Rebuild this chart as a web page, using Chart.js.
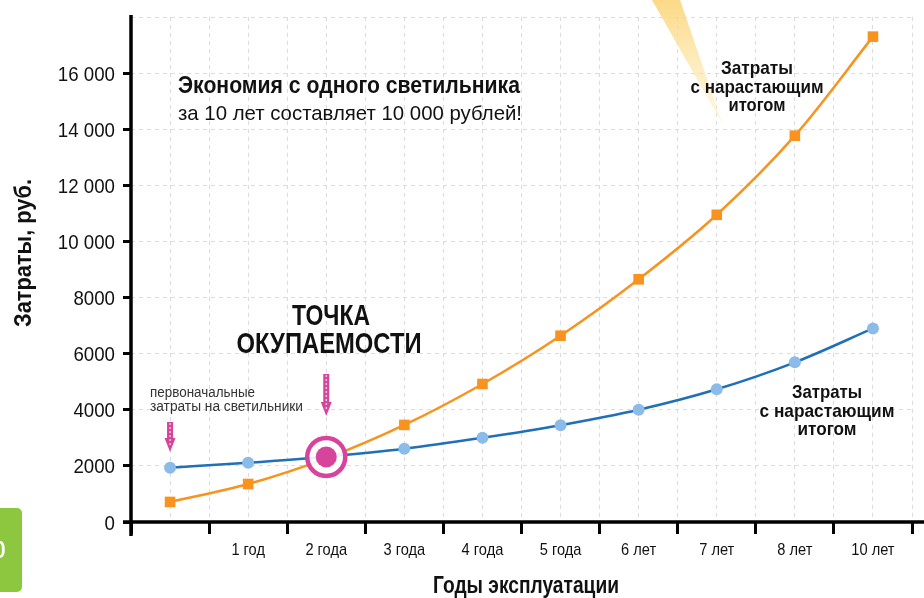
<!DOCTYPE html>
<html lang="ru">
<head>
<meta charset="utf-8">
<title>Точка окупаемости</title>
<script src="https://cdn.jsdelivr.net/npm/chart.js@4.4.1/dist/chart.umd.min.js"></script>
<style>
  html, body { margin: 0; padding: 0; background: #fff; }
  #wrap { width: 924px; height: 598px; position: relative; }
</style>
</head>
<body>
<div id="wrap"><canvas id="paybackChart" width="924" height="598"></canvas></div>
<script>
// Data
const yearLabels = ['', '1 год', '2 года', '3 года', '4 года', '5 года', '6 лет', '7 лет', '8 лет', '10 лет'];
const blueCosts = [1935, 2115, 2330, 2610, 3000, 3450, 4000, 4730, 5690, 6900];
const orangeCosts = [715, 1355, 2270, 3460, 4920, 6640, 8650, 10950, 13770, 17300];
const paybackPoint = [{ x: 2, y: 2320 }];
const yTicks = { min: 0, max: 18000, step: 2000 };

const FONT = "'Liberation Sans', Arial, sans-serif";
const PINK = '#d6449c';
const BLUE = '#1f6fb9';
const BLUE_POINT = '#8bbbe8';
const ORANGE = '#f7931e';
const GRID = '#dcdcdc';
const INK = '#111';

// horizontal squeeze to imitate the condensed face of the original
const X_TICK_SQUEEZE = 0.86;
const Y_TICK_SQUEEZE = 0.89;

Chart.defaults.font.family = FONT;

function toXY(values) {
    return values.map((v, i) => ({ x: i, y: v }));
}

function isWhole(v) {
    return Math.abs(v - Math.round(v)) < 1e-6;
}

function formatRub(v) {
    if (v >= 10000) {
        return String(v).replace(/\B(?=(\d{3})+(?!\d))/g, ' ');
    }
    return String(v);
}

// draws text squeezed to a given width (or by a factor when width is null)
function fitText(ctx, text, x, y, font, width, align, factor) {
    ctx.font = font;
    const w = ctx.measureText(text).width;
    const sx = width ? width / w : factor;
    ctx.save();
    ctx.translate(x, y);
    ctx.scale(sx, 1);
    ctx.textAlign = align;
    ctx.textBaseline = 'alphabetic';
    ctx.fillText(text, 0, 0);
    ctx.restore();
}

function drawArrow(ctx, x, y0, y1) {
    ctx.save();
    ctx.fillStyle = PINK;
    ctx.fillRect(x - 3, y0, 6, y1 - y0 - 12);
    ctx.beginPath();
    ctx.moveTo(x - 5.5, y1 - 14);
    ctx.lineTo(x + 5.5, y1 - 14);
    ctx.lineTo(x, y1);
    ctx.closePath();
    ctx.fill();
    ctx.strokeStyle = '#fff';
    ctx.lineWidth = 1;
    ctx.setLineDash([2, 2]);
    ctx.beginPath();
    ctx.moveTo(x, y0 + 1);
    ctx.lineTo(x, y1 - 6);
    ctx.stroke();
    ctx.restore();
}

// background decorations, axis lines, tick labels, text annotations
const decorPlugin = {
    id: 'decor',
    beforeDatasetsDraw(chart) {
        const ctx = chart.ctx;
        ctx.save();
        const g = ctx.createLinearGradient(0, 0, 0, 125);
        g.addColorStop(0, 'rgba(252, 212, 120, 0.9)');
        g.addColorStop(1, 'rgba(253, 238, 185, 0.4)');
        ctx.fillStyle = g;
        ctx.beginPath();
        ctx.moveTo(652, 0);
        ctx.lineTo(680, 0);
        ctx.lineTo(723, 125);
        ctx.closePath();
        ctx.fill();
        ctx.restore();
    },
    afterDraw(chart) {
        const ctx = chart.ctx;
        const area = chart.chartArea;
        const xs = chart.scales.x;
        const ys = chart.scales.y;
        ctx.save();

        // axis lines
        ctx.strokeStyle = '#000';
        ctx.lineWidth = 3.5;
        ctx.beginPath();
        ctx.moveTo(area.left, 15);
        ctx.lineTo(area.left, area.bottom + 14);
        ctx.moveTo(area.left - 8, area.bottom);
        ctx.lineTo(924, area.bottom);
        ctx.stroke();

        ctx.fillStyle = INK;

        // y tick labels
        ys.ticks.forEach((t) => {
            if (t.value >= yTicks.max) return;
            const py = ys.getPixelForValue(t.value);
            fitText(ctx, formatRub(t.value), area.left - 16, py + 7.5, '21px ' + FONT, null, 'right', Y_TICK_SQUEEZE);
        });

        // x tick labels
        yearLabels.forEach((lab, i) => {
            if (!lab) return;
            fitText(ctx, lab, xs.getPixelForValue(i), 555, '17px ' + FONT, null, 'center', X_TICK_SQUEEZE);
        });

        // axis titles
        fitText(ctx, 'Годы эксплуатации', 526, 593, 'bold 23px ' + FONT, 186, 'center');
        ctx.save();
        ctx.translate(31, 253);
        ctx.rotate(-Math.PI / 2);
        fitText(ctx, 'Затраты, руб.', 0, 0, 'bold 24px ' + FONT, 148, 'center');
        ctx.restore();

        // headline
        fitText(ctx, 'Экономия с одного светильника', 178, 93, 'bold 23px ' + FONT, 342, 'left');
        fitText(ctx, 'за 10 лет составляет 10 000 рублей!', 178, 120, '21px ' + FONT, 344, 'left');

        // payback label
        fitText(ctx, 'ТОЧКА', 331, 325, 'bold 30px ' + FONT, 78, 'center');
        fitText(ctx, 'ОКУПАЕМОСТИ', 329, 353, 'bold 30px ' + FONT, 185, 'center');

        // initial costs note
        ctx.fillStyle = '#333';
        fitText(ctx, 'первоначальные', 150, 397, '14px ' + FONT, 105, 'left');
        fitText(ctx, 'затраты на светильники', 150, 411, '14px ' + FONT, 153, 'left');

        // series labels
        ctx.fillStyle = INK;
        const f = 'bold 19px ' + FONT;
        fitText(ctx, 'Затраты', 757, 74, f, 72, 'center');
        fitText(ctx, 'с нарастающим', 757, 93, f, 133, 'center');
        fitText(ctx, 'итогом', 757, 111, f, 57, 'center');
        fitText(ctx, 'Затраты', 827, 398, f, 70, 'center');
        fitText(ctx, 'с нарастающим', 827, 417, f, 135, 'center');
        fitText(ctx, 'итогом', 827, 435, f, 59, 'center');

        // arrows
        drawArrow(ctx, xs.getPixelForValue(0), 422, 452);
        drawArrow(ctx, xs.getPixelForValue(2), 374, 416);

        // green page tab
        ctx.fillStyle = '#8dc63f';
        ctx.beginPath();
        ctx.roundRect(-6, 508, 28, 84, 5);
        ctx.fill();
        ctx.fillStyle = '#fff';
        fitText(ctx, '0', 0, 558, 'bold 24px ' + FONT, null, 'center', 0.85);

        ctx.restore();
    }
};

new Chart(document.getElementById('paybackChart'), {
    type: 'line',
    data: {
        datasets: [
            {
                label: 'Ring',
                data: paybackPoint,
                showLine: false,
                pointRadius: 19,
                pointBorderWidth: 4.5,
                pointBorderColor: PINK,
                pointBackgroundColor: 'rgba(255,255,255,0.9)',
                order: 1
            },
            {
                label: 'Затраты (оранжевые)',
                data: toXY(orangeCosts),
                borderColor: ORANGE,
                borderWidth: 2.5,
                cubicInterpolationMode: 'monotone',
                pointStyle: 'rect',
                pointRadius: 7.5,
                pointBorderWidth: 0,
                pointBackgroundColor: ORANGE,
                order: 3
            },
            {
                label: 'Затраты (синие)',
                data: toXY(blueCosts),
                borderColor: BLUE,
                borderWidth: 2.5,
                cubicInterpolationMode: 'monotone',
                pointRadius: 6,
                pointBorderWidth: 0,
                pointBackgroundColor: BLUE_POINT,
                order: 2
            },
            {
                label: 'Точка окупаемости',
                data: paybackPoint,
                showLine: false,
                pointRadius: 10.5,
                pointBorderWidth: 0,
                pointBackgroundColor: PINK,
                order: 0
            }
        ]
    },
    options: {
        responsive: false,
        animation: false,
        devicePixelRatio: 1,
        layout: { autoPadding: false, padding: { top: 17, right: 12, left: 0, bottom: 0 } },
        plugins: {
            legend: { display: false },
            tooltip: { enabled: false }
        },
        scales: {
            x: {
                type: 'linear',
                min: -0.5,
                max: 9.5,
                afterFit(scale) {
                    scale.height = 76;
                    scale.paddingLeft = 0;
                    scale.paddingRight = 0;
                },
                grid: {
                    color: GRID,
                    lineWidth: 1,
                    tickLength: 12,
                    tickWidth: 3,
                    tickColor: (c) => (c.tick && !isWhole(c.tick.value)) ? '#000' : 'rgba(0,0,0,0)'
                },
                border: { display: false, dash: [4, 4] },
                ticks: {
                    display: false,
                    stepSize: 0.5,
                    autoSkip: false
                }
            },
            y: {
                min: yTicks.min,
                max: yTicks.max,
                afterFit(scale) {
                    scale.width = 131;
                    scale.paddingTop = 0;
                    scale.paddingBottom = 0;
                },
                grid: {
                    color: GRID,
                    lineWidth: 1,
                    tickLength: 8,
                    tickWidth: 3,
                    tickColor: (c) => (c.tick && c.tick.value < yTicks.max) ? '#000' : 'rgba(0,0,0,0)'
                },
                border: { display: false, dash: [4, 4] },
                ticks: {
                    display: false,
                    stepSize: yTicks.step
                }
            }
        }
    },
    plugins: [decorPlugin]
});
</script>
</body>
</html>
